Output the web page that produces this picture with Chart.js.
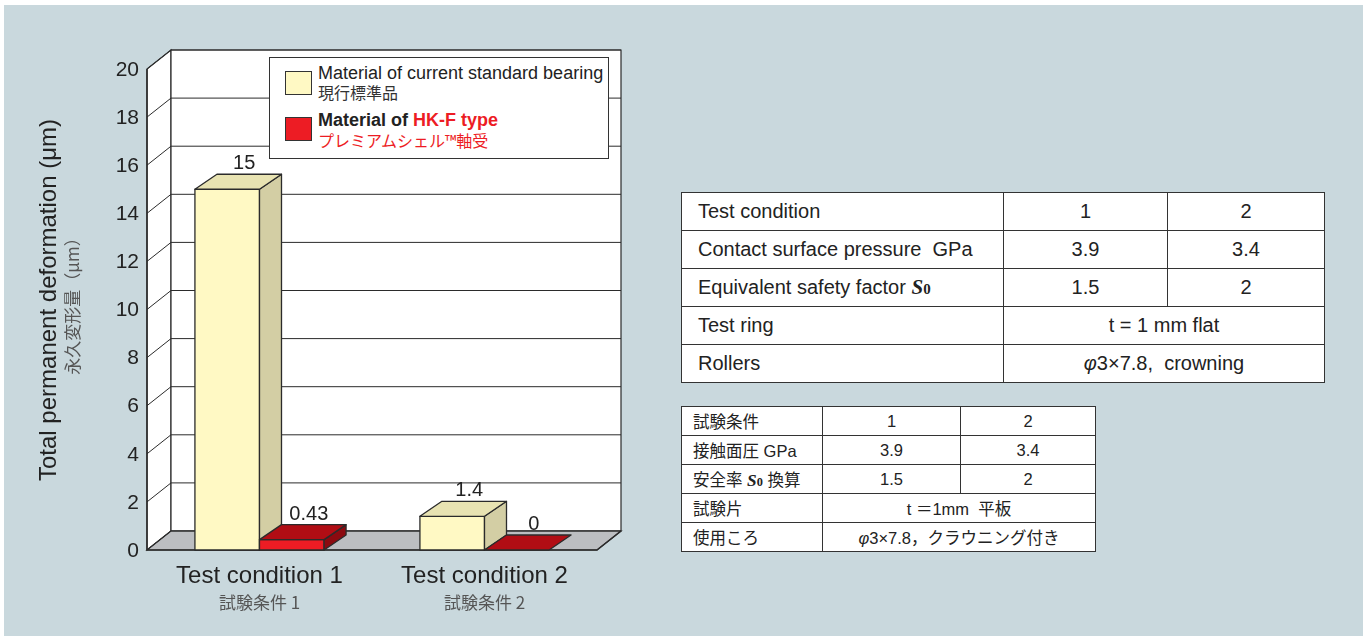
<!DOCTYPE html>
<html>
<head>
<meta charset="utf-8">
<script src="https://cdn.jsdelivr.net/npm/chart.js@4.4.0/dist/chart.umd.min.js"></script>
<style>
  html, body { margin: 0; padding: 0; background: #fff; width: 1369px; height: 636px; overflow: hidden; }
  #panel { position: absolute; left: 4px; top: 5px; width: 1359px; height: 631px; background: #c9d8dd; }
  #chart { position: absolute; left: 0; top: 0; }
  .box { position: absolute; background: #fff; border: 1.5px solid #333; box-sizing: border-box; }
  .sw { position: absolute; width: 27px; height: 24px; border: 1.5px solid #333; box-sizing: border-box; }
  .txt { position: absolute; white-space: nowrap; font-family: "Liberation Sans", Arial, sans-serif; color: #222; }
  .jp { font-family: "Noto Sans CJK JP", sans-serif; }
  table { position: absolute; border-collapse: collapse; table-layout: fixed; background: #fff;
          font-family: "Liberation Sans", Arial, "Noto Sans CJK JP", sans-serif; color: #222; }
  td { border: 1.5px solid #333; padding: 0; text-align: center; white-space: nowrap; }
  td.h { text-align: left; }
  #t1 { left: 681px; top: 192px; width: 643px; font-size: 20px; }
  #t1 td { height: 37px; }
  #t1 td.h { padding-left: 16px; }
  #t2 { left: 681px; top: 406px; width: 414px; font-size: 16.5px; }
  #t2 td { height: 28px; }
  #t2 td.h { padding-left: 11px; }
  .s0 { font-family: "Liberation Serif", "DejaVu Serif", serif; font-weight: bold; }
  .s0 i { font-size: 1.05em; }
  .s0 small { font-size: 0.75em; }
</style>
</head>
<body>
<div id="panel"></div>
<canvas id="chart" width="1369" height="636"></canvas>

<div class="box" style="left:269px; top:57px; width:340px; height:102px;"></div>
<div class="sw" style="left:285px; top:71px; background:#fff9c4;"></div>
<div class="txt" style="left:318px; top:64px; font-size:18px; line-height:18px;">Material of current standard bearing</div>
<div class="txt jp" style="left:318px; top:84px; font-size:16px; line-height:16px; color:#333;">現行標準品</div>
<div class="sw" style="left:285px; top:117px; background:#ed1c24;"></div>
<div class="txt" style="left:318px; top:111px; font-size:18px; line-height:18px; font-weight:bold;">Material of <span style="color:#ed1c24;">HK-F type</span></div>
<div class="txt jp" style="left:318px; top:132px; font-size:16px; line-height:16px; color:#ed1c24;">プレミアムシェル™軸受</div>

<table id="t1">
  <colgroup><col style="width:322px"><col style="width:164px"><col style="width:157px"></colgroup>
  <tr><td class="h">Test condition</td><td>1</td><td>2</td></tr>
  <tr><td class="h">Contact surface pressure&nbsp;&nbsp;GPa</td><td>3.9</td><td>3.4</td></tr>
  <tr><td class="h">Equivalent safety factor <span class="s0"><i>S</i><small>0</small></span></td><td>1.5</td><td>2</td></tr>
  <tr><td class="h">Test ring</td><td colspan="2">t = 1 mm flat</td></tr>
  <tr><td class="h">Rollers</td><td colspan="2"><i>φ</i>3×7.8,&nbsp;&nbsp;crowning</td></tr>
</table>

<table id="t2">
  <colgroup><col style="width:141px"><col style="width:138px"><col style="width:135px"></colgroup>
  <tr><td class="h">試験条件</td><td>1</td><td>2</td></tr>
  <tr><td class="h">接触面圧 GPa</td><td>3.9</td><td>3.4</td></tr>
  <tr><td class="h">安全率 <span class="s0"><i>S</i><small>0</small></span> 換算</td><td>1.5</td><td>2</td></tr>
  <tr><td class="h">試験片</td><td colspan="2">t ＝1mm&nbsp;&nbsp;平板</td></tr>
  <tr><td class="h">使用ころ</td><td colspan="2"><i>φ</i>3×7.8，クラウニング付き</td></tr>
</table>

<script>
// Total permanent deformation per test condition (um)
const categories = ['Test condition 1', 'Test condition 2'];
const categoriesJa = ['試験条件 1', '試験条件 2'];
const currentValues = [15, 1.4];   // current standard bearing
const hkfValues = [0.43, 0];       // HK-F type
const yTicks = [0, 2, 4, 6, 8, 10, 12, 14, 16, 18, 20];

const FONT = '"Liberation Sans", Arial, sans-serif';
const JFONT = '"Noto Sans CJK JP", sans-serif';
const DX = 24, DY = -19;   // wall depth
const BX = 22, BY = -15;   // bar depth
const faces = [
  { front: '#fff9c4', top: '#e8e3b2', side: '#d3cea4' },
  { front: '#ed1c24', top: '#b10d14', side: '#8c0a10' }
];

function poly(ctx, pts, fill) {
  ctx.beginPath();
  ctx.moveTo(pts[0][0], pts[0][1]);
  for (let i = 1; i < pts.length; i++) ctx.lineTo(pts[i][0], pts[i][1]);
  ctx.closePath();
  if (fill) { ctx.fillStyle = fill; ctx.fill(); }
  ctx.stroke();
}

const box3d = {
  id: 'box3d',
  beforeDatasetsDraw(chart) {
    const ctx = chart.ctx, ca = chart.chartArea, y = chart.scales.y;
    const L = ca.left, R = ca.right;
    const T = y.getPixelForValue(yTicks[yTicks.length - 1]), B = y.getPixelForValue(0);
    ctx.save();
    ctx.strokeStyle = '#2b2b2b';
    ctx.lineWidth = 1.2;
    poly(ctx, [[L, T], [L + DX, T + DY], [L + DX, B + DY], [L, B]], '#fff');
    poly(ctx, [[L + DX, T + DY], [R + DX, T + DY], [R + DX, B + DY], [L + DX, B + DY]], '#fff');
    poly(ctx, [[L, B], [L + DX, B + DY], [R + DX, B + DY], [R, B]], '#bcbec1');
    ctx.lineWidth = 1;
    yTicks.forEach(v => {
      const yy = y.getPixelForValue(v);
      ctx.beginPath();
      ctx.moveTo(L, yy);
      ctx.lineTo(L + DX, yy + DY);
      ctx.lineTo(R + DX, yy + DY);
      ctx.stroke();
    });
    ctx.lineWidth = 1.5;
    ctx.beginPath();
    ctx.moveTo(L, T); ctx.lineTo(L, B); ctx.lineTo(R, B); ctx.lineTo(R + DX, B + DY);
    ctx.stroke();

    // y tick labels
    ctx.fillStyle = '#222';
    ctx.font = '21px ' + FONT;
    ctx.textAlign = 'right';
    ctx.textBaseline = 'middle';
    yTicks.forEach(v => ctx.fillText(String(v), L - 8, y.getPixelForValue(v) + 1));

    // axis titles
    ctx.save();
    ctx.translate(56, 300);
    ctx.rotate(-Math.PI / 2);
    ctx.textAlign = 'center';
    ctx.textBaseline = 'alphabetic';
    ctx.font = '24px ' + FONT;
    ctx.fillText('Total permanent deformation (μm)', 0, 0);
    ctx.restore();
    ctx.save();
    ctx.translate(73, 302);
    ctx.rotate(-Math.PI / 2);
    ctx.textAlign = 'center';
    ctx.textBaseline = 'middle';
    ctx.fillStyle = '#555';
    ctx.font = '17px ' + JFONT;
    ctx.fillText('永久変形量（μm）', 0, 0);
    ctx.restore();
    ctx.restore();
  },
  beforeDatasetDraw() { return false; },
  afterDatasetsDraw(chart) {
    const ctx = chart.ctx, x = chart.scales.x;
    ctx.save();
    ctx.strokeStyle = '#2b2b2b';
    ctx.lineWidth = 1.3;
    ctx.lineJoin = 'round';
    categories.forEach((c, i) => {
      chart.data.datasets.forEach((ds, d) => {
        const bar = chart.getDatasetMeta(d).data[i];
        const l = bar.x - bar.width / 2, r = bar.x + bar.width / 2;
        const t = bar.y, b = bar.base;
        const f = faces[d];
        if (b - t > 0.5) {
          ctx.fillStyle = f.front;
          ctx.fillRect(l, t, r - l, b - t);
          ctx.strokeRect(l, t, r - l, b - t);
          poly(ctx, [[r, t], [r + BX, t + BY], [r + BX, b + BY], [r, b]], f.side);
        }
        poly(ctx, [[l, t], [l + BX, t + BY], [r + BX, t + BY], [r, t]], f.top);
      });
    });
    // value labels
    ctx.fillStyle = '#222';
    ctx.font = '20px ' + FONT;
    ctx.textAlign = 'center';
    ctx.textBaseline = 'alphabetic';
    chart.data.datasets.forEach((ds, d) => {
      chart.getDatasetMeta(d).data.forEach((bar, i) => {
        ctx.fillText(String(ds.data[i]), bar.x + 17, bar.y + BY - 5);
      });
    });
    // category labels
    categories.forEach((c, i) => {
      const cx = x.getPixelForValue(i);
      ctx.fillStyle = '#222';
      ctx.font = '24px ' + FONT;
      ctx.fillText(c, cx, 583);
      ctx.fillStyle = '#555';
      ctx.font = '17px ' + JFONT;
      ctx.fillText(categoriesJa[i], cx, 609);
    });
    ctx.restore();
  }
};

new Chart(document.getElementById('chart').getContext('2d'), {
  type: 'bar',
  data: {
    labels: categories,
    datasets: [
      { label: 'Material of current standard bearing', data: currentValues, backgroundColor: faces[0].front },
      { label: 'Material of HK-F type', data: hkfValues, backgroundColor: faces[1].front }
    ]
  },
  options: {
    responsive: false,
    animation: false,
    layout: { padding: { left: 147, top: 69, right: 772, bottom: 86 } },
    datasets: { bar: { categoryPercentage: 0.574, barPercentage: 1 } },
    plugins: { legend: { display: false }, tooltip: { enabled: false } },
    scales: {
      x: { display: false },
      y: { display: false, min: 0, max: 20 }
    }
  },
  plugins: [box3d]
});
</script>
</body>
</html>
